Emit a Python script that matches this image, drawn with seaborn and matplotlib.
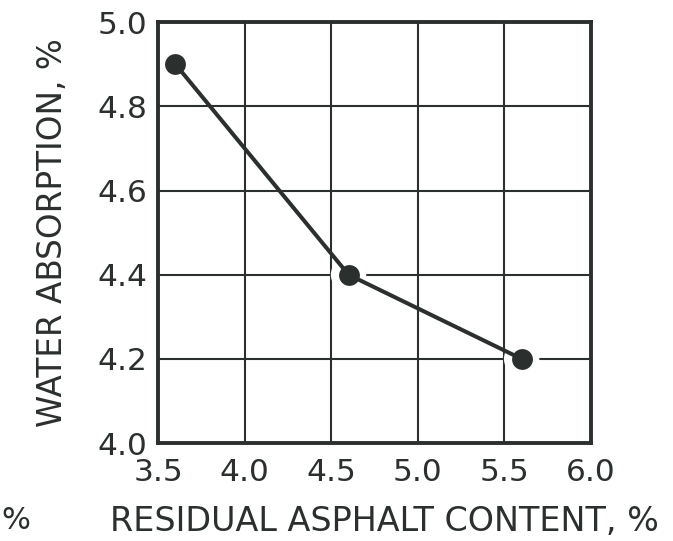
import matplotlib
matplotlib.use("Agg")
import matplotlib.pyplot as plt
import seaborn as sns
import pandas as pd

# Residual asphalt content (%) vs. water absorption (%)
asphalt_content = [3.6, 4.6, 5.6]
water_absorption = [4.9, 4.4, 4.2]

x_ticks = [3.5, 4.0, 4.5, 5.0, 5.5, 6.0]
x_tick_labels = ["3.5", "4.0", "4.5", "5.0", "5.5", "6.0"]
y_ticks = [4.0, 4.2, 4.4, 4.6, 4.8, 5.0]
y_tick_labels = ["4.0", "4.2", "4.4", "4.6", "4.8", "5.0"]

x_label = "RESIDUAL ASPHALT CONTENT, %"
y_label = "WATER ABSORPTION, %"

INK = "#2b302e"

sns.set_theme(style="white")
plt.rcParams["font.family"] = ["DejaVu Sans"]

df = pd.DataFrame({"content": asphalt_content, "absorption": water_absorption})

fig = plt.figure(figsize=(6.73, 5.41), dpi=100)
ax = fig.add_axes([0.235, 0.181, 0.643, 0.778])

# white halo behind each point so the grid breaks around it
sns.scatterplot(data=df, x="content", y="absorption", ax=ax, s=650,
                color="white", edgecolor="none", zorder=2, legend=False)

sns.lineplot(data=df, x="content", y="absorption", ax=ax, color=INK,
             linewidth=2.9, marker="o", markersize=15, markeredgewidth=0,
             markerfacecolor=INK, zorder=3, sort=False)

ax.set_xlim(3.5, 6.0)
ax.set_ylim(4.0, 5.0)
ax.set_xticks(x_ticks)
ax.set_xticklabels(x_tick_labels)
ax.set_yticks(y_ticks)
ax.set_yticklabels(y_tick_labels)

ax.grid(True, color=INK, linewidth=1.5, zorder=1)
ax.set_axisbelow(True)
for sp in ax.spines.values():
    sp.set_color(INK)
    sp.set_linewidth(2.8)
    sp.set_visible(True)

ax.tick_params(axis="both", length=0, labelsize=22.5, colors=INK)
ax.tick_params(axis="x", pad=11)
ax.tick_params(axis="y", pad=8)

ax.set_xlabel(x_label, fontsize=24, color=INK)
ax.xaxis.set_label_coords(0.523, -0.146)
ax.set_ylabel(y_label, fontsize=23.5, color=INK, labelpad=20)

fig.text(0.002, 0.038, "%", fontsize=22, color=INK, ha="left", va="center")

fig.savefig("out.png", dpi=100, facecolor="white")
